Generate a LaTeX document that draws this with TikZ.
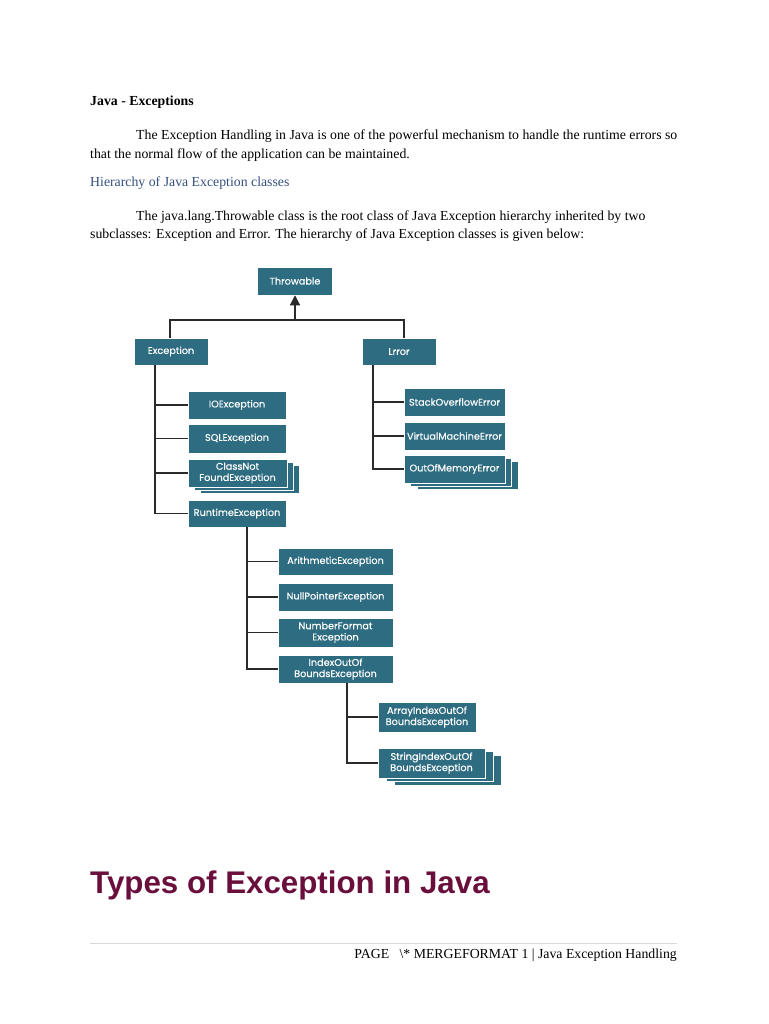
\documentclass[tikz,border=0pt]{standalone}
\usepackage{fontspec}
\setmainfont{Liberation Serif}
\newfontfamily\boxfont[FakeBold=0.35]{Poppins}
\newfontfamily\headfont{Liberation Sans}
\usetikzlibrary{shadows,arrows.meta}
\definecolor{boxteal}{HTML}{2E6C82}
\definecolor{headblue}{HTML}{34507E}
\definecolor{typesred}{HTML}{6A0F3C}
\definecolor{linegray}{HTML}{2A2A2A}
\begin{document}
\begin{tikzpicture}[x=1pt,y=-1pt,
  cls/.style 2 args={fill=boxteal, draw=white, line width=0.5pt, text=white,
    font=\boxfont\fontsize{9.7}{11.2}\selectfont, align=center, inner sep=0pt,
    minimum width=#1, minimum height=#2},
  stack/.style 2 args={double copy shadow={shadow xshift=#1, shadow yshift=-#2,
    fill=boxteal, draw=white, line width=0.5pt}},
  conn/.style={draw=linegray, line width=1.2pt},
  body/.style={anchor=base west, inner sep=0pt, font=\fontsize{13.8}{17}\selectfont}]
\useasboundingbox[fill=white] (0,0) rectangle (768,1024);

% ---- text ----
\node[body, font=\bfseries\fontsize{13.8}{17}\selectfont] (title) at (90,106) {Java - Exceptions};
\node[body] (p1a) at (136,140) {The Exception Handling in Java is one of the powerful mechanism to handle the runtime errors so};
\node[body] (p1b) at (90,159) {that the normal flow of the application can be maintained.};
\node[body, text=headblue] (h2) at (90,187) {Hierarchy of Java Exception classes};
\node[body] (p2a) at (136,221) {The java.lang.Throwable class is the root class of Java Exception hierarchy inherited by two};
\node[body] (p2b) at (90,239) {subclasses: Exception and Error. The hierarchy of Java Exception classes is given below:};

% ---- diagram ----
\node[cls={75pt}{28pt}] (thr) at (295,281) {Throwable};
\node[cls={74pt}{27pt}] (exc) at (171,351.5) {Exception};
\node[cls={74pt}{27pt}] (err) at (399,351.5) {Lrror};

\node[cls={98pt}{28pt}] (io) at (237,405) {IOException};
\node[cls={98pt}{29pt}] (sql) at (237,438.5) {SQLException};
\node[cls={99pt}{28pt}, stack={6pt}{3pt}] (cnf) at (237.5,473) {ClassNot\\FoundException};
\node[cls={98pt}{27pt}] (rte) at (237,513.5) {RuntimeException};

\node[cls={101pt}{28pt}] (soe) at (454.5,402) {StackOverflowError};
\node[cls={101pt}{28pt}] (vme) at (454.5,436) {VirtualMachineError};
\node[cls={101pt}{28pt}, stack={6.5pt}{3pt}] (oom) at (454.5,469) {OutOfMemoryError};

\node[cls={115pt}{27pt}] (ari) at (335.5,561.5) {ArithmeticException};
\node[cls={115pt}{28pt}] (npe) at (335.5,597) {NullPointerException};
\node[cls={115pt}{29pt}] (nfe) at (335.5,632.5) {NumberFormat\\Exception};
\node[cls={115pt}{28pt}] (ioob) at (335.5,669) {IndexOutOf\\BoundsException};

\node[cls={98pt}{30pt}] (aioob) at (427,717) {ArrayIndexOutOf\\BoundsException};
\node[cls={107pt}{30pt}, stack={8pt}{3.5pt}] (sioob) at (431.5,763) {StringIndexOutOf\\BoundsException};

\coordinate (split) at (295,320);
\draw[conn, -{Triangle[length=10pt,width=10pt]}] (split) -- (thr.south);
\draw[conn] ([xshift=-1pt]exc.north) |- (split) -| ([xshift=5pt]err.north);

\draw[conn] ([xshift=-16pt]exc.south) |- (io.west);
\draw[conn] ([xshift=-16pt]exc.south) |- (sql.west);
\draw[conn] ([xshift=-16pt]exc.south) |- (cnf.west);
\draw[conn] ([xshift=-16pt]exc.south) |- (rte.west);

\draw[conn] ([xshift=-26pt]err.south) |- (soe.west);
\draw[conn] ([xshift=-26pt]err.south) |- (vme.west);
\draw[conn] ([xshift=-26pt]err.south) |- (oom.west);

\draw[conn] ([xshift=10pt]rte.south) |- (ari.west);
\draw[conn] ([xshift=10pt]rte.south) |- (npe.west);
\draw[conn] ([xshift=10pt]rte.south) |- (nfe.west);
\draw[conn] ([xshift=10pt]rte.south) |- (ioob.west);

\draw[conn] ([xshift=11.5pt]ioob.south) |- (aioob.west);
\draw[conn] ([xshift=11.5pt]ioob.south) |- (sioob.west);

% ---- bottom ----
\node[anchor=base west, inner sep=0pt, text=typesred, font=\headfont\bfseries\fontsize{31.3}{36}\selectfont] (types) at (90,893) {Types of Exception in Java};
\coordinate (ruleL) at (90,943);
\coordinate (ruleR) at (677,943);
\draw[draw=black!15, line width=0.8pt] (ruleL) -- (ruleR);
\node[anchor=base east, inner sep=0pt, font=\fontsize{13.8}{17}\selectfont] (footer) at (677,958) {PAGE\ \ \ \textbackslash* MERGEFORMAT 1 | Java Exception Handling};
\end{tikzpicture}
\end{document}
